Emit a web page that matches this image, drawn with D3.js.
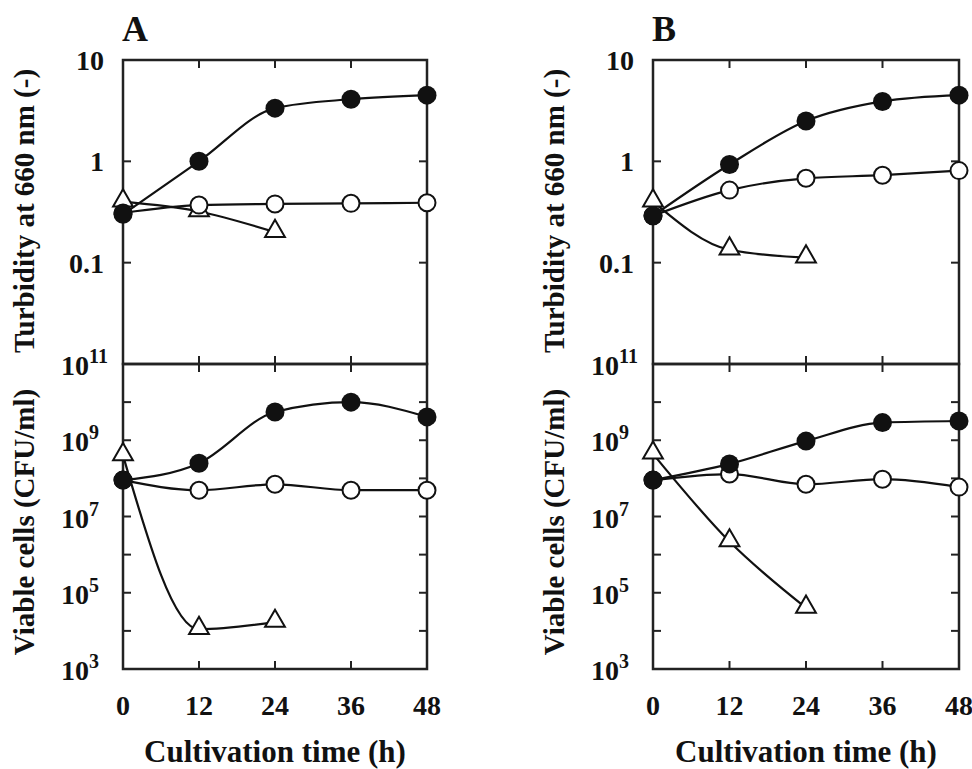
<!DOCTYPE html>
<html>
<head>
<meta charset="utf-8">
<script src="https://cdn.jsdelivr.net/npm/d3@7"></script>
<style>
  body { margin: 0; background: #fff; }
  text { font-family: "Liberation Serif", "Times New Roman", serif; font-weight: bold; fill: #111; }
</style>
</head>
<body>
<svg id="chart" width="972" height="769"></svg>
<script>
// Sampling times (h)
var hours = [0, 12, 24, 36, 48];
var hoursShort = [0, 12, 24];
var xTickValues = [0, 12, 24, 36, 48];

// Panel A - turbidity at 660 nm
var aTurbFilled = [0.30, 1.0, 3.35, 4.1, 4.5];
var aTurbOpen = [0.31, 0.37, 0.38, 0.385, 0.39];
var aTurbTri = [0.40, 0.32, 0.20];
// Panel A - viable cells (CFU/ml)
var aCfuFilled = [9e7, 2.5e8, 5.5e9, 1.0e10, 4.1e9];
var aCfuOpen = [9e7, 4.9e7, 7e7, 4.9e7, 4.9e7];
var aCfuTri = [4e8, 1.1e4, 1.7e4];

// Panel B - turbidity at 660 nm
var bTurbFilled = [0.29, 0.93, 2.5, 3.9, 4.5];
var bTurbOpen = [0.29, 0.52, 0.68, 0.73, 0.81];
var bTurbTri = [0.40, 0.134, 0.112];
// Panel B - viable cells (CFU/ml)
var bCfuFilled = [9e7, 2.4e8, 9.5e8, 2.9e9, 3.2e9];
var bCfuOpen = [9e7, 1.3e8, 7e7, 9.5e7, 5.9e7];
var bCfuTri = [4.4e8, 2.2e6, 4e4];

// tick labels
var turbTickValues = [10, 1, 0.1];
var turbTickLabels = ["10", "1", "0.1"];
var turbMinorTicks = [1, 0.1];
var cfuTickValues = [1e10, 1e9, 1e8, 1e7, 1e6, 1e5, 1e4];
var cfuLabelExps = [11, 9, 7, 5, 3];

var svg = d3.select("#chart");

var top0 = 60, mid = 364, bot = 669;
var tick = 8;

function drawPanel(letter, left, right, turb, cfu) {
    var x = d3.scaleLinear().domain([0, 48]).range([left, right]);
    var yT = d3.scaleLog().domain([0.01, 10]).range([mid, top0]);
    var yC = d3.scaleLog().domain([1e3, 1e11]).range([bot, mid]);

    var g = svg.append("g");

    // panel letter
    g.append("text")
        .attr("x", left - 1)
        .attr("y", 41)
        .style("font-size", "36px")
        .text(letter);

    // ticks (inside the frame)
    var ticks = g.append("g").attr("stroke", "#222").attr("stroke-width", 2);
    xTickValues.slice(1, 4).forEach(function (v) {
        [[top0, top0 + tick], [mid, mid - tick], [mid, mid + tick], [bot, bot - tick]].forEach(function (p) {
            ticks.append("line").attr("x1", x(v)).attr("x2", x(v)).attr("y1", p[0]).attr("y2", p[1]);
        });
    });
    turbMinorTicks.forEach(function (v) {
        ticks.append("line").attr("x1", left).attr("x2", left + tick).attr("y1", yT(v)).attr("y2", yT(v));
        ticks.append("line").attr("x1", right).attr("x2", right - tick).attr("y1", yT(v)).attr("y2", yT(v));
    });
    cfuTickValues.forEach(function (v) {
        ticks.append("line").attr("x1", left).attr("x2", left + tick).attr("y1", yC(v)).attr("y2", yC(v));
        ticks.append("line").attr("x1", right).attr("x2", right - tick).attr("y1", yC(v)).attr("y2", yC(v));
    });

    // frames
    g.append("rect").attr("x", left).attr("y", top0).attr("width", right - left).attr("height", mid - top0)
        .attr("fill", "none").attr("stroke", "#222").attr("stroke-width", 2.5);
    g.append("rect").attr("x", left).attr("y", mid).attr("width", right - left).attr("height", bot - mid)
        .attr("fill", "none").attr("stroke", "#222").attr("stroke-width", 2.5);

    // y tick labels - turbidity
    turbTickValues.forEach(function (v, i) {
        g.append("text")
            .attr("x", left - 19)
            .attr("y", yT(v) + 10)
            .attr("text-anchor", "end")
            .style("font-size", "28px")
            .text(turbTickLabels[i]);
    });
    // y tick labels - cfu, as 10 with superscript
    cfuLabelExps.forEach(function (e) {
        var t = g.append("text")
            .attr("x", left - 62)
            .attr("y", yC(Math.pow(10, e)) + 11)
            .style("font-size", "28px");
        t.append("tspan").text("10");
        t.append("tspan").attr("dy", -12).style("font-size", "20px").text(e);
    });

    // x tick labels
    xTickValues.forEach(function (v) {
        g.append("text")
            .attr("x", x(v))
            .attr("y", 715)
            .attr("text-anchor", "middle")
            .style("font-size", "28px")
            .text(v);
    });

    // axis titles
    g.append("text")
        .attr("x", (left + right) / 2)
        .attr("y", 762)
        .attr("text-anchor", "middle")
        .style("font-size", "31px")
        .text("Cultivation time (h)");
    g.append("text")
        .attr("transform", "translate(" + (left - 89) + "," + 211 + ") rotate(-90)")
        .attr("text-anchor", "middle")
        .style("font-size", "29px")
        .text("Turbidity at 660 nm (-)");
    g.append("text")
        .attr("transform", "translate(" + (left - 89) + "," + 522 + ") rotate(-90)")
        .attr("text-anchor", "middle")
        .style("font-size", "29px")
        .text("Viable cells (CFU/ml)");

    // series
    function plot(y, filled, open, tri) {
        var line = d3.line()
            .x(function (d) { return x(d[0]); })
            .y(function (d) { return y(d[1]); })
            .curve(d3.curveMonotoneX);
        var sets = [
            { t: hoursShort, v: tri, type: "tri" },
            { t: hours, v: open, type: "open" },
            { t: hours, v: filled, type: "filled" }
        ];
        sets.forEach(function (s) {
            var pts = s.t.map(function (h, i) { return [h, s.v[i]]; });
            g.append("path").attr("d", line(pts))
                .attr("fill", "none").attr("stroke", "#111").attr("stroke-width", 2.2);
        });
        var triShape = d3.symbol().type(d3.symbolTriangle).size(170);
        sets.forEach(function (s) {
            var pts = s.t.map(function (h, i) { return [h, s.v[i]]; });
            var sel = g.append("g").selectAll("path").data(pts).enter();
            if (s.type == "tri") {
                sel.append("path")
                    .attr("d", triShape)
                    .attr("transform", function (d) { return "translate(" + x(d[0]) + "," + (y(d[1]) - 1) + ")"; })
                    .attr("fill", "#fff").attr("stroke", "#111").attr("stroke-width", 2);
            } else if (s.type == "open") {
                sel.append("circle")
                    .attr("cx", function (d) { return x(d[0]); })
                    .attr("cy", function (d) { return y(d[1]); })
                    .attr("r", 8.5)
                    .attr("fill", "#fff").attr("stroke", "#111").attr("stroke-width", 2);
            } else {
                sel.append("circle")
                    .attr("cx", function (d) { return x(d[0]); })
                    .attr("cy", function (d) { return y(d[1]); })
                    .attr("r", 9.5)
                    .attr("fill", "#111");
            }
        });
    }

    plot(yT, turb[0], turb[1], turb[2]);
    plot(yC, cfu[0], cfu[1], cfu[2]);
}

drawPanel("A", 123, 427, [aTurbFilled, aTurbOpen, aTurbTri], [aCfuFilled, aCfuOpen, aCfuTri]);
drawPanel("B", 653, 959, [bTurbFilled, bTurbOpen, bTurbTri], [bCfuFilled, bCfuOpen, bCfuTri]);
</script>
</body>
</html>
